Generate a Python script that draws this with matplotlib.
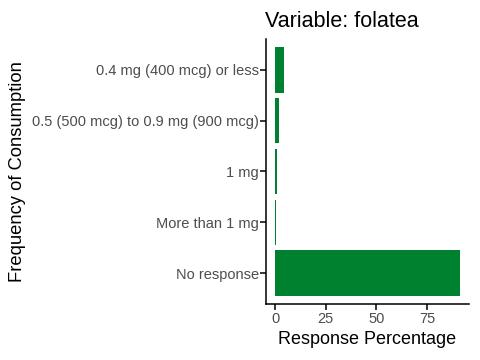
import matplotlib
matplotlib.use("Agg")
import matplotlib.pyplot as plt

plt.rcParams['font.family'] = ['Liberation Sans', 'DejaVu Sans']

categories = ["0.4 mg (400 mcg) or less", "0.5 (500 mcg) to 0.9 mg (900 mcg)",
              "1 mg", "More than 1 mg", "No response"]
values = [4.4, 2.1, 1.1, 0.5, 91.2]

fig = plt.figure(figsize=(4.8, 3.6), dpi=100)
ax = fig.add_axes([266/480, 1-304/360, (469-266)/480, (304-39)/360])

ypos = list(range(len(categories)))[::-1]
ax.barh(ypos, values, height=0.9, color='#00812F')
ax.set_yticks(ypos)
ax.set_yticklabels(categories)
ax.set_ylim(-0.6, 4.6)
vmax = max(values)
ax.set_xlim(-0.05*vmax, vmax*1.05)
ax.set_xticks([0, 25, 50, 75])

for s in ['top', 'right']:
    ax.spines[s].set_visible(False)
for s in ['left', 'bottom']:
    ax.spines[s].set_linewidth(1.1)
    ax.spines[s].set_color('black')
ax.tick_params(axis='y', length=4, width=1.1, color='black', labelsize=10.5, labelcolor='#4D4D4D', pad=1)
ax.tick_params(axis='x', length=4, width=1.1, color='black', labelsize=10.5, labelcolor='#4D4D4D', pad=2)

ax.set_xlabel("Response Percentage", fontsize=13, color='black', labelpad=3)
ax.set_ylabel("Frequency of Consumption", fontsize=13.2, color='black', labelpad=4.5)
ax.set_title("Variable: folatea", fontsize=15.5, loc='left', x=-0.003, pad=8.8)

fig.savefig("out.png", dpi=100)
